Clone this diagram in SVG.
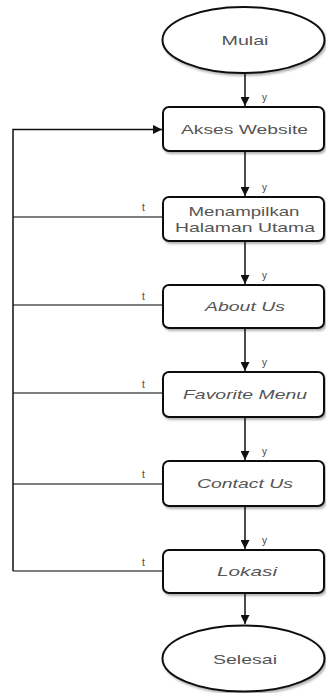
<svg xmlns="http://www.w3.org/2000/svg" width="326" height="693" viewBox="0 0 326 693">
  <style>
    .shape { fill: #ffffff; stroke: #111111; stroke-width: 2; filter: url(#shadow); }
    .label { font-family: "Liberation Sans", Arial, sans-serif; font-size: 13px; fill: #555555; text-anchor: middle; }
    .it { font-style: italic; }
    .small { font-family: "Liberation Sans", Arial, sans-serif; font-size: 10px; fill: #444444; }
    .flow { stroke: #111111; stroke-width: 1.5; fill: none; }
    .back { stroke: #555555; stroke-width: 1.6; fill: none; }
  </style>
  <defs>
    <filter id="shadow" x="-10%" y="-10%" width="130%" height="140%">
      <feDropShadow dx="1.5" dy="2" stdDeviation="1.2" flood-color="#000000" flood-opacity="0.3"/>
    </filter>
    <marker id="arrow" viewBox="0 0 10 10" refX="10" refY="5" markerWidth="9" markerHeight="9" markerUnits="userSpaceOnUse" orient="auto">
      <path d="M0,0 L10,5 L0,10 z" fill="#111111"/>
    </marker>
  </defs>
  <rect width="326" height="693" fill="#ffffff"/>

  <!-- connectors -->
  <g id="connectors">
    <line class="flow" x1="245" y1="74" x2="245" y2="106" marker-end="url(#arrow)"/>
    <line class="flow" x1="245" y1="152" x2="245" y2="196" marker-end="url(#arrow)"/>
    <line class="flow" x1="245" y1="242" x2="245" y2="284" marker-end="url(#arrow)"/>
    <line class="flow" x1="245" y1="329" x2="245" y2="371" marker-end="url(#arrow)"/>
    <line class="flow" x1="245" y1="418" x2="245" y2="460" marker-end="url(#arrow)"/>
    <line class="flow" x1="245" y1="507" x2="245" y2="549" marker-end="url(#arrow)"/>
    <line class="flow" x1="245" y1="594" x2="245" y2="624" marker-end="url(#arrow)"/>
    <!-- return path to Akses Website -->
    <line class="back" x1="162" y1="217" x2="13" y2="217"/>
    <line class="back" x1="162" y1="305" x2="13" y2="305"/>
    <line class="back" x1="162" y1="393" x2="13" y2="393"/>
    <line class="back" x1="162" y1="484" x2="13" y2="484"/>
    <line class="back" x1="162" y1="571" x2="13" y2="571"/>
    <polyline class="flow" points="13,571 13,129.5 162,129.5" marker-end="url(#arrow)"/>
    <!-- branch labels -->
    <text class="small" x="262" y="101">y</text>
    <text class="small" x="262" y="191">y</text>
    <text class="small" x="262" y="279">y</text>
    <text class="small" x="262" y="366">y</text>
    <text class="small" x="262" y="455">y</text>
    <text class="small" x="262" y="544">y</text>
    <text class="small" x="142" y="211">t</text>
    <text class="small" x="142" y="300">t</text>
    <text class="small" x="142" y="388">t</text>
    <text class="small" x="142" y="478">t</text>
    <text class="small" x="142" y="566">t</text>
  </g>

  <g id="mulai">
    <ellipse class="shape" cx="243.5" cy="40" rx="81" ry="33"/>
    <text class="label" x="245" y="45" textLength="47" lengthAdjust="spacingAndGlyphs">Mulai</text>
  </g>
  <g id="akses-website">
    <rect class="shape" x="163" y="107" width="161" height="44" rx="6"/>
    <text class="label" x="244.5" y="134" textLength="127" lengthAdjust="spacingAndGlyphs">Akses Website</text>
  </g>
  <g id="halaman-utama">
    <rect class="shape" x="163" y="197" width="161" height="44" rx="6"/>
    <text class="label" x="244" y="216" textLength="111" lengthAdjust="spacingAndGlyphs">Menampilkan</text>
    <text class="label" x="245" y="232" textLength="140" lengthAdjust="spacingAndGlyphs">Halaman Utama</text>
  </g>
  <g id="about-us">
    <rect class="shape" x="163" y="285" width="161" height="43" rx="6"/>
    <text class="label it" x="245" y="311" textLength="80" lengthAdjust="spacingAndGlyphs">About Us</text>
  </g>
  <g id="favorite-menu">
    <rect class="shape" x="163" y="372" width="161" height="45" rx="6"/>
    <text class="label it" x="245" y="399" textLength="124" lengthAdjust="spacingAndGlyphs">Favorite Menu</text>
  </g>
  <g id="contact-us">
    <rect class="shape" x="163" y="461" width="161" height="45" rx="6"/>
    <text class="label it" x="245" y="488" textLength="96" lengthAdjust="spacingAndGlyphs">Contact Us</text>
  </g>
  <g id="lokasi">
    <rect class="shape" x="163" y="550" width="161" height="43" rx="6"/>
    <text class="label it" x="247" y="576" textLength="60" lengthAdjust="spacingAndGlyphs">Lokasi</text>
  </g>
  <g id="selesai">
    <ellipse class="shape" cx="243.5" cy="658.5" rx="81" ry="33"/>
    <text class="label" x="245" y="664" textLength="64" lengthAdjust="spacingAndGlyphs">Selesai</text>
  </g>
</svg>
